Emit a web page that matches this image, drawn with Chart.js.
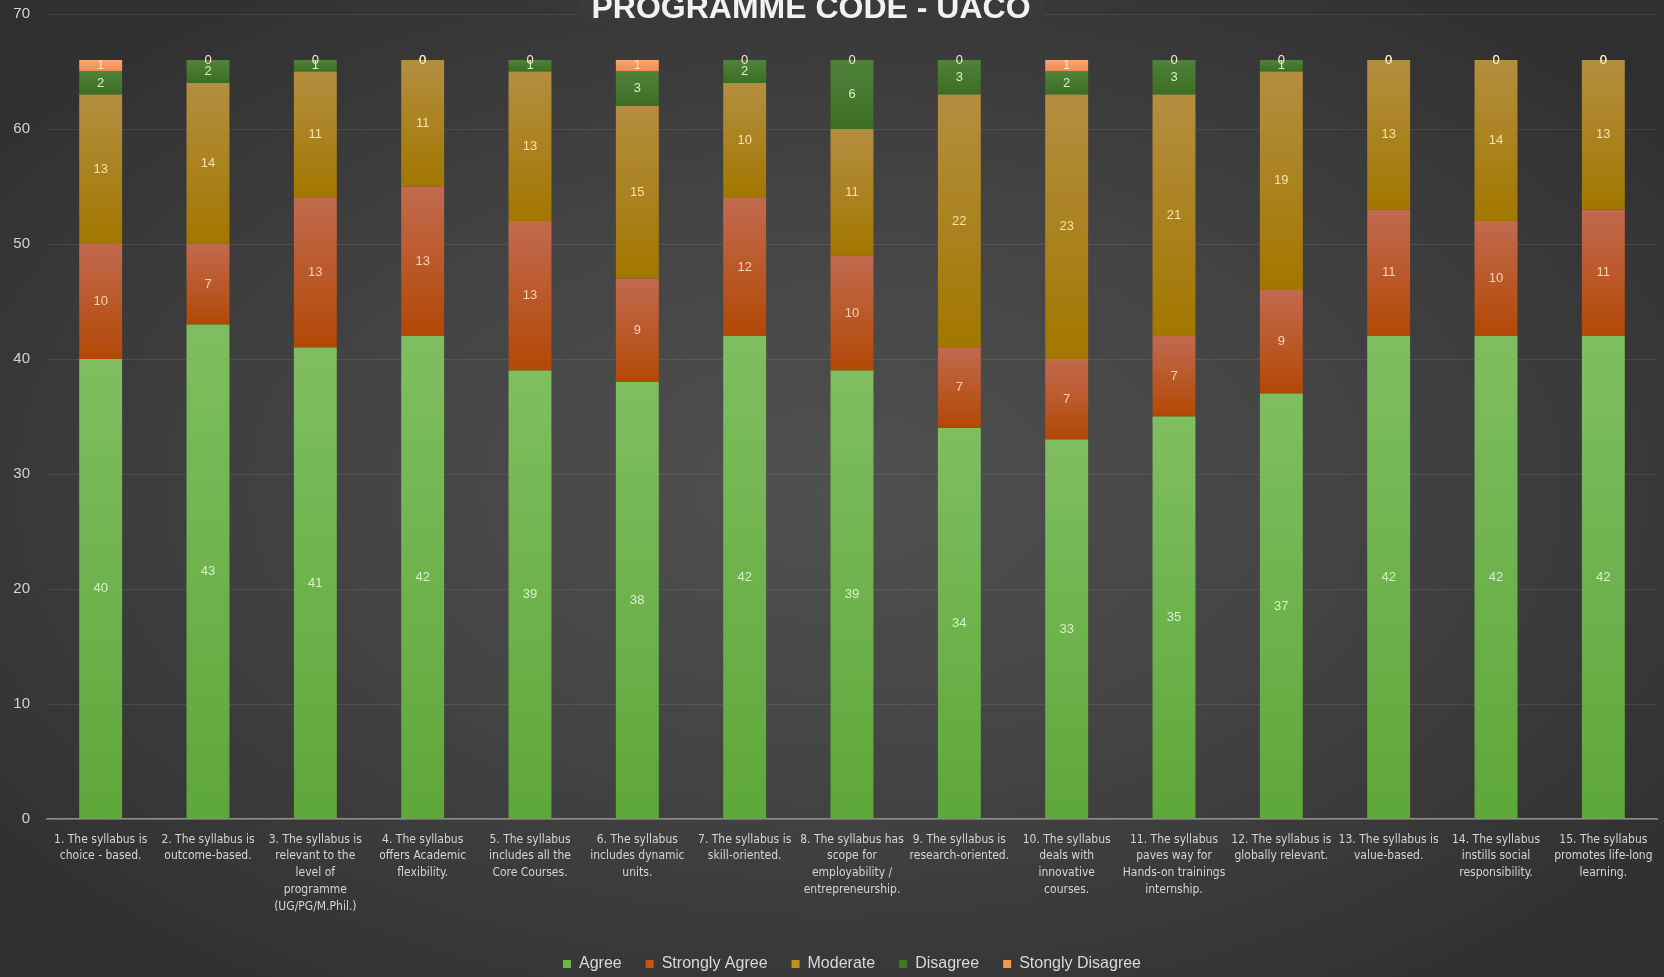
<!DOCTYPE html>
<html><head><meta charset="utf-8">
<script src="https://cdn.jsdelivr.net/npm/chart.js@4.4.0/dist/chart.umd.min.js"></script>
<style>
html,body{margin:0;padding:0;width:1664px;height:977px;overflow:hidden;
background: radial-gradient(ellipse 65% 65% at 50% 50%, #505050 0%, #444444 45%, #2f2f2f 100%);}
#c{position:absolute;left:0;top:0;}
</style></head><body>
<canvas id="c" width="1664" height="977"></canvas>
<script>
const categories = [
  ["1. The syllabus is", "choice - based."],
  ["2. The syllabus is", "outcome-based."],
  ["3. The syllabus is", "relevant to the", "level of", "programme", "(UG/PG/M.Phil.)"],
  ["4. The syllabus", "offers Academic", "flexibility."],
  ["5. The syllabus", "includes all the", "Core Courses."],
  ["6. The syllabus", "includes dynamic", "units."],
  ["7. The syllabus is", "skill-oriented."],
  ["8. The syllabus has", "scope for", "employability /", "entrepreneurship."],
  ["9. The syllabus is", "research-oriented."],
  ["10. The syllabus", "deals with", "innovative", "courses."],
  ["11. The syllabus", "paves way for", "Hands-on trainings", "internship."],
  ["12. The syllabus is", "globally relevant."],
  ["13. The syllabus is", "value-based."],
  ["14. The syllabus", "instills social", "responsibility."],
  ["15. The syllabus", "promotes life-long", "learning."]
];
const agree           = [40,43,41,42,39,38,42,39,34,33,35,37,42,42,42];
const stronglyAgree   = [10, 7,13,13,13, 9,12,10, 7, 7, 7, 9,11,10,11];
const moderate        = [13,14,11,11,13,15,10,11,22,23,21,19,13,14,13];
const disagree        = [ 2, 2, 1, 0, 1, 3, 2, 6, 3, 2, 3, 1, 0, 0, 0];
const stonglyDisagree = [ 1, 0, 0, 0, 0, 1, 0, 0, 0, 1, 0, 0, 0, 0, 0];
const seriesNames = ["Agree", "Strongly Agree", "Moderate", "Disagree", "Stongly Disagree"];
const yTicks = [0,10,20,30,40,50,60,70];
const titleText = "PROGRAMME CODE - UACO";

const NARROW = "'DejaVu Sans Condensed','Liberation Sans Narrow','Liberation Sans',sans-serif";
const SANS = "'Liberation Sans','DejaVu Sans',sans-serif";

function grad(top, bottom){
  return function(ctx){
    const chart = ctx.chart;
    if (!chart.chartArea || ctx.dataIndex === undefined) return bottom;
    const ys = chart.scales.y;
    const di = ctx.datasetIndex, i = ctx.dataIndex;
    let start = 0;
    for (let d = 0; d < di; d++) start += chart.data.datasets[d].data[i];
    const end = start + chart.data.datasets[di].data[i];
    const y0 = ys.getPixelForValue(start), y1 = ys.getPixelForValue(end);
    if (!isFinite(y0) || !isFinite(y1) || Math.abs(y0 - y1) < 0.5) return bottom;
    const g = chart.ctx.createLinearGradient(0, y1, 0, y0);
    g.addColorStop(0, top); g.addColorStop(1, bottom);
    return g;
  };
}

const styles = [
  {top:'#7fbe60', bottom:'#5ea739', legend:'#6cb845', label:'#d9f0cb'},
  {top:'#c26a4f', bottom:'#b24805', legend:'#c4561a', label:'#f5d2b9'},
  {top:'#b48e40', bottom:'#a27700', legend:'#c2931c', label:'#f5e3a8'},
  {top:'#4f833a', bottom:'#3c6d22', legend:'#3f7a25', label:'#d6f0c4'},
  {top:'#f8a774', bottom:'#ef8a4e', legend:'#f59a4a', label:'#fde4d4'}
];
const seriesData = [agree, stronglyAgree, moderate, disagree, stonglyDisagree];

const datasets = seriesData.map((d, k) => ({
  label: seriesNames[k],
  data: d,
  backgroundColor: grad(styles[k].top, styles[k].bottom),
  legendColor: styles[k].legend,
  labelColor: styles[k].label,
  borderWidth: 0,
  barPercentage: 0.4,
  categoryPercentage: 1.0
}));

const valuePlugin = {
  id: 'vals',
  afterDatasetsDraw(chart){
    const c = chart.ctx;
    chart.data.datasets.forEach((ds, di) => {
      const meta = chart.getDatasetMeta(di);
      meta.data.forEach((el, i) => {
        const v = ds.data[i];
        const yy = (el.y + el.base) / 2;
        c.save();
        c.font = "13px " + SANS;
        c.fillStyle = ds.labelColor;
        c.textAlign = 'center';
        c.textBaseline = 'middle';
        c.fillText(String(v), el.x, yy);
        c.restore();
      });
    });
  }
};

const titlePlugin = {
  id: 'ttl',
  afterDraw(chart){
    const c = chart.ctx;
    c.save();
    c.font = "bold 32px " + SANS;
    const w = c.measureText(titleText).width;
    const cx = 811;
    c.fillStyle = '#3a3a3a';
    c.fillRect(cx - w/2 - 14, 0, w + 28, 22);
    c.fillStyle = '#f2f2f2';
    c.textAlign = 'center';
    c.textBaseline = 'alphabetic';
    c.fillText(titleText, cx, 18);
    c.restore();
  }
};

new Chart(document.getElementById('c'), {
  type: 'bar',
  data: { labels: categories, datasets: datasets },
  plugins: [valuePlugin, titlePlugin],
  options: {
    responsive: false,
    devicePixelRatio: 1,
    animation: false,
    layout: { padding: { left: 0, right: 7, top: 14, bottom: -5 } },
    plugins: {
      title: { display: false },
      tooltip: { enabled: false },
      legend: {
        position: 'bottom',
        fullSize: false,
        labels: {
          color: '#d9d9d9',
          font: { size: 16, family: SANS },
          boxWidth: 8, boxHeight: 8,
          padding: 24,
          generateLabels(chart){
            return chart.data.datasets.map((ds, i) => ({
              text: ds.label, fillStyle: ds.legendColor, strokeStyle: ds.legendColor,
              lineWidth: 0, hidden: false, datasetIndex: i, fontColor: '#d9d9d9'
            }));
          }
        }
      }
    },
    scales: {
      x: {
        stacked: true,
        grid: { display: false },
        border: { display: true, color: '#8f8f8f', width: 1.5 },
        ticks: { color: '#d4d4d4', font: { size: 12, family: NARROW, lineHeight: 1.4 }, padding: 4, maxRotation: 0, autoSkip: false },
        afterFit(s){ s.height = 113; }
      },
      y: {
        stacked: true,
        min: 0, max: 70,
        grid: { color: 'rgba(255,255,255,0.09)', drawTicks: false },
        border: { display: false },
        ticks: { color: '#d4d4d4', font: { size: 15, family: SANS }, padding: 17, stepSize: 10 },
        afterBuildTicks(s){ s.ticks = yTicks.map(v => ({ value: v })); },
        afterFit(s){ s.width = 47; s.paddingTop = 0; s.paddingBottom = 0; }
      }
    }
  }
});
</script>
</body></html>
